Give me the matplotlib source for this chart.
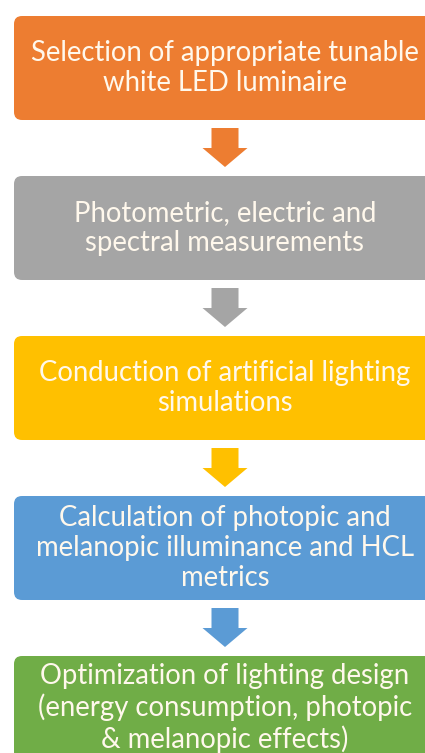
import matplotlib.pyplot as plt
from matplotlib.patches import FancyBboxPatch, Polygon

steps = [
    "Selection of appropriate tunable\nwhite LED luminaire",
    "Photometric, electric and\nspectral measurements",
    "Conduction of artificial lighting\nsimulations",
    "Calculation of photopic and\nmelanopic illuminance and HCL\nmetrics",
    "Optimization of lighting design\n(energy consumption, photopic\n& melanopic effects)",
]
colors = ["#ED7D31", "#A5A5A5", "#FFC000", "#5B9BD5", "#70AD47"]

W, H = 425, 753
fig = plt.figure(figsize=(W / 100, H / 100), dpi=100)
ax = fig.add_axes([0, 0, 1, 1])
ax.set_xlim(0, W)
ax.set_ylim(H, 0)
ax.axis('off')

x0, x1 = 14, 440
cx = 225
top0, pitch, bh = 16, 160, 104

for i, (txt, c) in enumerate(zip(steps, colors)):
    y = top0 + i * pitch
    box = FancyBboxPatch((x0, y), x1 - x0, bh,
                         boxstyle="round,pad=0,rounding_size=8",
                         fc=c, ec="none")
    ax.add_patch(box)
    ax.text(cx, y + bh / 2, txt, ha='center', va='center', color='#FFF8EC',
            fontsize=19.8, family='Lato', linespacing=1.18)
    if i < len(steps) - 1:
        a0 = y + bh + 8
        sw, hw, sl, tl = 13.5, 22.5, 20, 39
        pts = [(cx - sw, a0), (cx + sw, a0), (cx + sw, a0 + sl), (cx + hw, a0 + sl),
               (cx, a0 + tl), (cx - hw, a0 + sl), (cx - sw, a0 + sl)]
        ax.add_patch(Polygon(pts, closed=True, fc=c, ec='none'))

fig.savefig("out.png", dpi=100)
